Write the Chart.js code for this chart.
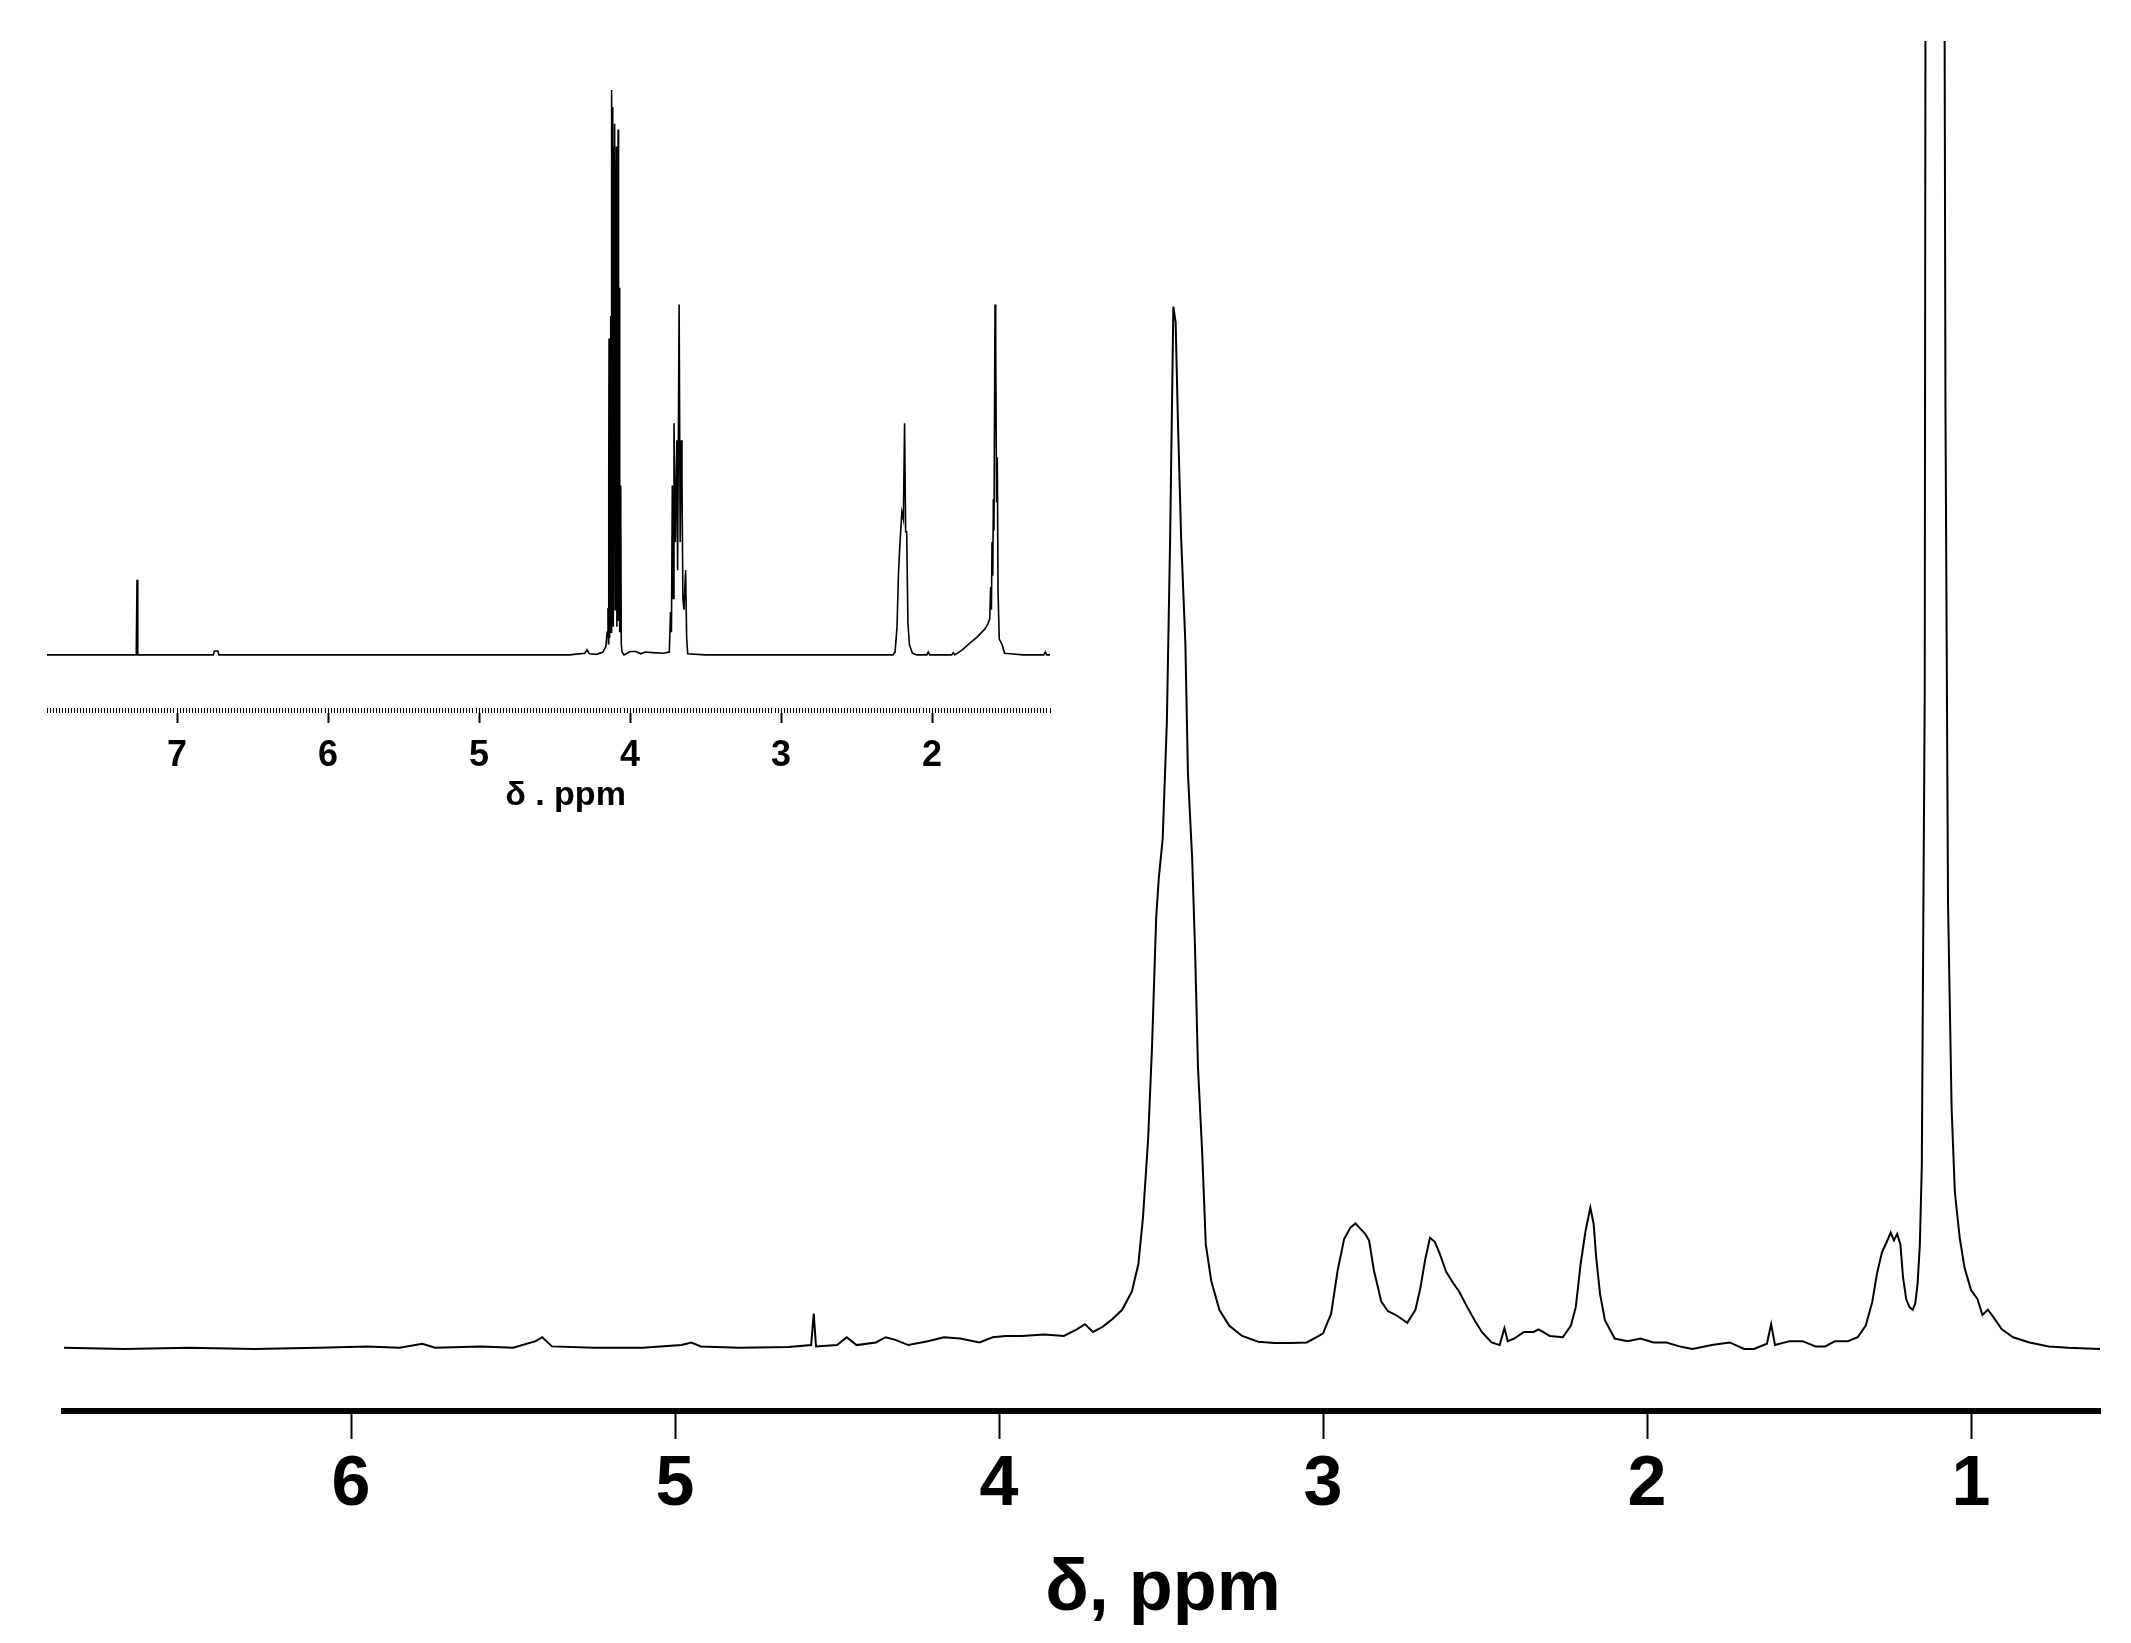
<!DOCTYPE html>
<html><head><meta charset="utf-8">
<script src="https://cdn.jsdelivr.net/npm/chart.js@4.4.1/dist/chart.umd.min.js"></script>
<style>
html,body{margin:0;padding:0;background:#fff;}
#wrap{position:relative;width:2131px;height:1643px;background:#fff;}
#main,#inset{position:absolute;left:0;top:0;}
</style></head><body>
<div id="wrap">
<canvas id="main" width="2131" height="1643"></canvas>
<canvas id="inset" width="1080" height="830"></canvas>
</div>
<script>
// ---- main spectrum (chemical shift, ppm / relative intensity) ----
const mainShift = [
  6.89,6.7,6.5,6.3,6.1,5.95,5.85,5.78,5.74,5.6,
  5.5,5.43,5.41,5.38,5.25,5.1,4.98,4.95,4.92,4.8,
  4.65,4.58,4.572,4.565,4.5,4.47,4.44,4.38,4.35,4.32,
  4.28,4.22,4.17,4.12,4.06,4.02,3.98,3.93,3.86,3.80,
  3.76,3.735,3.71,3.68,3.65,3.62,3.59,3.57,3.556,3.54,
  3.528,3.515,3.507,3.495,3.482,3.472,3.462,3.455,3.448,3.438,
  3.425,3.417,3.404,3.395,3.386,3.373,3.362,3.345,3.32,3.29,
  3.25,3.2,3.15,3.1,3.05,3.02,3.0,2.975,2.955,2.935,
  2.915,2.9,2.885,2.87,2.858,2.843,2.82,2.8,2.775,2.74,
  2.715,2.7,2.685,2.67,2.655,2.64,2.62,2.6,2.58,2.555,
  2.53,2.51,2.48,2.455,2.44,2.43,2.41,2.38,2.35,2.335,
  2.3,2.26,2.235,2.22,2.205,2.19,2.175,2.165,2.157,2.145,
  2.13,2.1,2.06,2.02,1.98,1.94,1.9,1.86,1.8,1.745,
  1.7,1.67,1.63,1.617,1.605,1.56,1.52,1.48,1.45,1.42,
  1.38,1.35,1.325,1.305,1.29,1.275,1.26,1.248,1.238,1.228,
  1.218,1.21,1.2,1.19,1.18,1.172,1.165,1.158,1.152,1.148,
  1.143,1.139,1.085,1.079,1.071,1.06,1.05,1.035,1.02,1.0,
  0.98,0.965,0.948,0.93,0.905,0.87,0.82,0.76,0.7,0.6
];
const mainIntensity = [
  0.1,0.0,0.1,0.0,0.1,0.2,0.1,0.4,0.1,0.2,
  0.1,0.6,0.9,0.2,0.1,0.1,0.3,0.5,0.2,0.1,
  0.15,0.3,2.7,0.2,0.3,0.9,0.3,0.5,0.9,0.7,
  0.3,0.6,0.9,0.8,0.5,0.9,1.0,1.0,1.1,1.0,
  1.5,1.9,1.3,1.7,2.3,3.0,4.4,6.5,10,16,
  23,33,36,39,48,62,79.7,78.5,71,62,
  54,44,37.5,30.5,21.5,15,8,5.2,3.0,1.8,
  1.0,0.55,0.45,0.45,0.5,0.9,1.2,2.7,6,8.4,
  9.3,9.6,9.2,8.8,8.3,6.0,3.6,2.9,2.6,2.0,
  3.0,4.6,6.8,8.5,8.2,7.3,5.9,5.1,4.4,3.2,
  2.1,1.3,0.5,0.3,1.6,0.6,0.8,1.3,1.3,1.5,
  1.0,0.9,1.8,3.2,6.5,9.0,10.8,9.6,7.0,4.2,
  2.2,0.8,0.6,0.8,0.5,0.5,0.2,0.0,0.3,0.5,
  0.0,0.0,0.4,1.9,0.3,0.6,0.6,0.2,0.2,0.6,
  0.6,0.9,1.8,3.6,5.8,7.4,8.2,8.9,8.3,8.8,
  8.0,5.5,3.8,3.2,3.0,3.5,5.0,8,14,30,
  50,140,140,72,34,18.4,12,8.5,6.2,4.5,
  3.8,2.6,3.0,2.4,1.5,0.9,0.5,0.2,0.1,0.0
];
const mainTicks = [6, 5, 4, 3, 2, 1];
const mainTitle = 'δ, ppm';

// ---- inset: full spectrum ----
const insetShift = [
  7.87,7.5,7.28,7.27,7.265,7.26,7.0,6.76,6.752,6.73,
  6.722,6.5,6.0,5.0,4.40,4.30,4.285,4.27,4.22,4.18,
  4.16,4.152,4.146,4.143,4.141,4.139,4.137,4.134,4.132,4.128,
  4.125,4.122,4.119,4.116,4.113,4.111,4.106,4.102,4.099,4.095,
  4.09,4.087,4.083,4.079,4.076,4.073,4.07,4.067,4.062,4.058,
  4.053,4.04,4.0,3.96,3.93,3.9,3.85,3.78,3.74,3.732,
  3.726,3.72,3.715,3.709,3.70,3.69,3.685,3.675,3.668,3.662,
  3.656,3.65,3.643,3.632,3.625,3.618,3.5,3.0,2.26,2.245,
  2.232,2.222,2.212,2.2,2.19,2.182,2.175,2.168,2.16,2.15,
  2.13,2.1,2.035,2.025,2.015,1.87,1.86,1.85,1.8,1.75,
  1.7,1.65,1.63,1.618,1.612,1.607,1.603,1.598,1.594,1.59,
  1.586,1.583,1.58,1.577,1.573,1.568,1.563,1.555,1.536,1.52,
  1.48,1.4,1.26,1.25,1.24,1.219
];
const insetIntensity = [
  0,0,0,0,13.3,0,0,0,0.7,0.7,
  0,0,0,0,0,0.3,0.9,0.2,0.1,0.5,
  1.5,4,8.3,2,30,56,3,50,5,60,
  4,100,6,80,97,5,90,94,8,70,
  90,5,60,93,6,55,65,4,30,2,
  0.5,0,0.6,0.6,0.2,0.5,0.4,0.3,0.5,7.6,
  4,30,10,41,20,38,15,62,20,38,
  30,10,8,15,3,0.2,0,0,0,0.5,
  5,14.7,20,25.3,24,41,21.8,21.8,5.8,1.8,
  0.3,0,0,0.5,0,0,0.4,0,0.9,2.1,
  3.2,4.6,5.5,6.4,12,8,20,14,27.6,22,
  45,62,40,55,27,35,11.2,2.8,1.8,0.3,
  0.2,0,0,0.5,0,0
];
const insetTicks = [7, 6, 5, 4, 3, 2];
const insetTitle = 'δ . ppm';

const FONT = "'Liberation Sans Narrow','Arial Narrow','Liberation Sans',Arial,sans-serif";
Chart.defaults.font.family = FONT;
Chart.defaults.color = '#000';

function pts(xs, ys) { return xs.map((x, i) => ({ x: x, y: ys[i] })); }

new Chart(document.getElementById('main'), {
  type: 'line',
  data: { datasets: [{
    data: pts(mainShift, mainIntensity),
    borderColor: '#000', borderWidth: 2, pointRadius: 0, tension: 0, fill: false
  }]},
  options: {
    responsive: false, animation: false, devicePixelRatio: 1,
    layout: { padding: { left: 64, right: 31, top: 41, bottom: 0 } },
    plugins: { legend: { display: false }, tooltip: { enabled: false } },
    scales: {
      x: {
        type: 'linear', reverse: true, min: 0.602, max: 6.886,
        afterBuildTicks: s => { s.ticks = mainTicks.map(v => ({ value: v })); },
        afterFit: s => { s.height = 232; },
        border: { display: true, color: '#000', width: 6 },
        grid: { drawOnChartArea: false, drawTicks: true, tickLength: 28, tickWidth: 2, tickColor: '#000' },
        ticks: { color: '#000', padding: 5, autoSkip: false, maxRotation: 0, font: { size: 70, weight: 'bold' } },
        title: { display: true, text: '\u2003\u2003\u2005' + mainTitle, color: '#000',
                 font: { size: 72, weight: 'bold' }, padding: { top: 0, bottom: 10 } }
      },
      y: { display: false, min: -4.74, max: 100 }
    }
  }
});

new Chart(document.getElementById('inset'), {
  type: 'line',
  data: { datasets: [{
    data: pts(insetShift, insetIntensity),
    borderColor: '#000', borderWidth: 1.6, pointRadius: 0, tension: 0, fill: false
  }]},
  options: {
    responsive: false, animation: false, devicePixelRatio: 1,
    layout: { padding: { left: 47, right: 30, top: 60, bottom: 0 } },
    plugins: { legend: { display: false }, tooltip: { enabled: false } },
    scales: {
      // hatched axis band (dense minor ticks)
      x: {
        type: 'linear', reverse: true, min: 1.219, max: 7.861, position: 'bottom', weight: 0,
        afterFit: s => { s.height = 5; },
        border: { display: false },
        grid: { drawOnChartArea: false, drawTicks: true, tickLength: 5, tickWidth: 1, tickColor: '#000' },
        ticks: { display: false, stepSize: 0.02, autoSkip: false }
      },
      // major ticks, labels and title
      x2: {
        type: 'linear', reverse: true, min: 1.219, max: 7.861, position: 'bottom', weight: 1,
        afterBuildTicks: s => { s.ticks = insetTicks.map(v => ({ value: v })); },
        afterFit: s => { s.height = 117; },
        border: { display: false },
        grid: { drawOnChartArea: false, drawTicks: true, tickLength: 10, tickWidth: 2, tickColor: '#000' },
        ticks: { color: '#000', padding: 11, autoSkip: false, maxRotation: 0, font: { size: 36, weight: 'bold' } },
        title: { display: true, text: '\u2003' + insetTitle, color: '#000',
                 font: { size: 34, weight: 'bold' }, padding: { top: 0, bottom: 14 } }
      },
      y: { display: false, min: -9.4, max: 105.3 }
    }
  }
});
</script>
</body></html>
